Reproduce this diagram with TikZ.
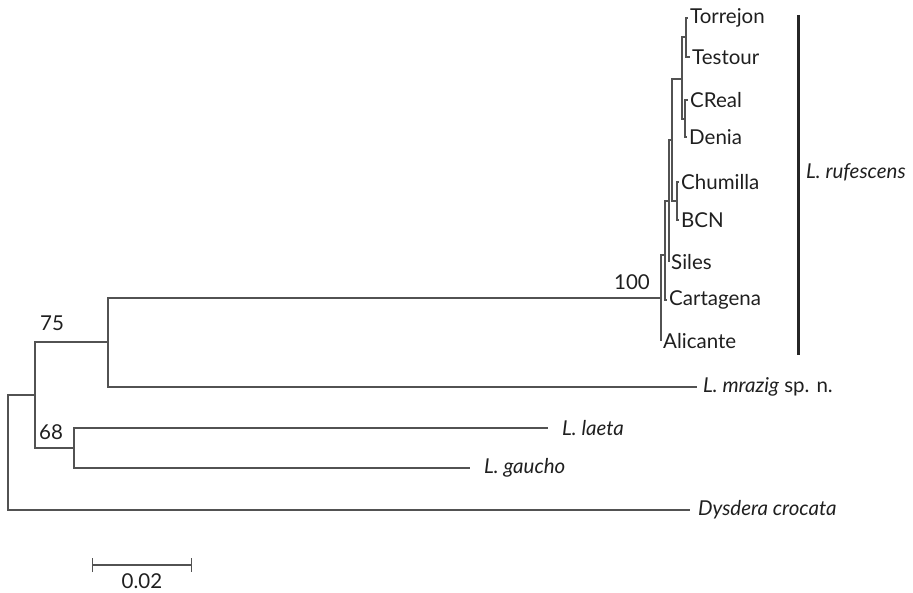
\documentclass[tikz,border=0pt]{standalone}
\usepackage{fontspec}
\setmainfont{Lato}
\usetikzlibrary{arrows.meta}
\begin{document}
\begin{tikzpicture}[x=1pt,y=-1pt,
  br/.style={draw=black!68, line width=1.3pt},
  tipl/.style={anchor=west, inner sep=0pt, xshift=2pt, text=black!88, font=\fontsize{20.5}{22}\selectfont},
  boot/.style={inner sep=0pt, text=black!88, font=\fontsize{20.5}{22}\selectfont}]
\useasboundingbox (0,0) rectangle (913,593);
% internal nodes
\coordinate (root) at (8,452);
\coordinate (n1) at (35,395);
\coordinate (n75) at (108,342);
\coordinate (n68) at (74,448);
\coordinate (n100) at (661,298);
\coordinate (nF) at (665,255);
\coordinate (nE) at (669,201);
\coordinate (nD) at (672,140);
\coordinate (nC) at (677,201);
\coordinate (nAB) at (682,79);
\coordinate (nA) at (686,37);
\coordinate (nB) at (685,119);
% tips
\coordinate (tTor) at (688,18);
\coordinate (tTes) at (690,57);
\coordinate (tCRe) at (688,100);
\coordinate (tDen) at (687,137);
\coordinate (tChu) at (679,182);
\coordinate (tBCN) at (679,220);
\coordinate (tSil) at (669,262);
\coordinate (tCar) at (667,300);
\coordinate (tAli) at (661,341);
\coordinate (tMra) at (697,387);
\coordinate (tLae) at (548,428);
\coordinate (tGau) at (470,468);
\coordinate (tDys) at (690,510);
% branches
\draw[br] (root) |- (n1);
\draw[br] (root) |- (tDys);
\draw[br] (n1) |- (n75);
\draw[br] (n1) |- (n68);
\draw[br] (n75) |- (n100);
\draw[br] (n75) |- (tMra);
\draw[br] (n68) |- (tLae);
\draw[br] (n68) |- (tGau);
\draw[br] (n100) |- (nF);
\draw[br] (n100) |- (tAli);
\draw[br] (nF) |- (nE);
\draw[br] (nF) |- (tCar);
\draw[br] (nE) |- (nD);
\draw[br] (nE) |- (tSil);
\draw[br] (nD) |- (nAB);
\draw[br] (nD) |- (nC);
\draw[br] (nC) |- (tChu);
\draw[br] (nC) |- (tBCN);
\draw[br] (nAB) |- (nA);
\draw[br] (nAB) |- (nB);
\draw[br] (nA) |- (tTor);
\draw[br] (nA) |- (tTes);
\draw[br] (nB) |- (tCRe);
\draw[br] (nB) |- (tDen);
% tip labels
\node[tipl] (lTor) at (tTor) {Torrejon};
\node[tipl] (lTes) at (tTes) {Testour};
\node[tipl] (lCRe) at (tCRe) {CReal};
\node[tipl] (lDen) at (tDen) {Denia};
\node[tipl] (lChu) at (tChu) {Chumilla};
\node[tipl] (lBCN) at (tBCN) {BCN};
\node[tipl] (lSil) at (tSil) {Siles};
\node[tipl] (lCar) at (tCar) {Cartagena};
\node[tipl] (lAli) at (tAli) {Alicante};
\node[tipl, xshift=4pt] (lMra) at (tMra) {\textit{L. mrazig} sp. n.};
\node[tipl, xshift=12pt] (lLae) at (tLae) {\textit{L. laeta}};
\node[tipl, xshift=12pt] (lGau) at (tGau) {\textit{L. gaucho}};
\node[tipl, xshift=6pt] (lDys) at (tDys) {\textit{Dysdera crocata}};
% bootstrap values
\node[boot, anchor=east] (b100) at (650,282) {100};
\node[boot] (b75) at (52,323) {75};
\node[boot] (b68) at (51,432) {68};
% clade bar
\coordinate (rb1) at (798,15);
\coordinate (rb2) at (798,355);
\draw[draw=black!85, line width=3pt] (rb1) -- (rb2);
\node[tipl, xshift=6pt] (lRuf) at (798,172) {\textit{L. rufescens}};
% scale bar
\coordinate (sbL) at (92,565);
\coordinate (sbR) at (192,565);
\draw[br, {Bar[width=14pt]}-{Bar[width=14pt]}] (sbL) -- (sbR);
\node[boot] (sbt) at (142,581) {0.02};
\end{tikzpicture}
\end{document}
